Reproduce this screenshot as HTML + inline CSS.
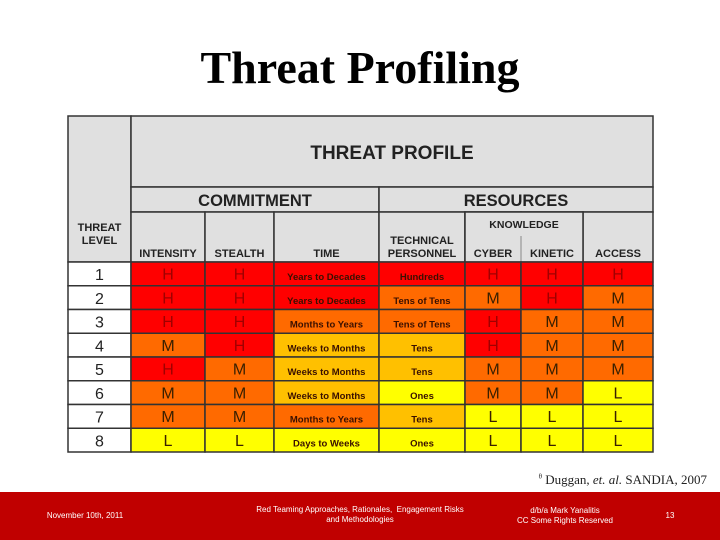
<!DOCTYPE html>
<html><head><meta charset="utf-8">
<style>
html,body{margin:0;padding:0;background:#fff;}
body{width:720px;height:540px;position:relative;overflow:hidden;font-family:"Liberation Sans",sans-serif;}
#title{position:absolute;left:0;width:720px;top:41px;text-align:center;font-family:"Liberation Serif",serif;font-weight:bold;font-size:46px;color:#000;}
#cite{position:absolute;right:13px;top:472px;font-family:"Liberation Serif",serif;font-size:13px;color:#222;}
#footer{position:absolute;left:0;top:492px;width:720px;height:48px;background:#c00000;color:#fff;font-size:8px;}
#footer div{position:absolute;text-align:center;line-height:10px;}
</style></head><body>
<div id="title">Threat Profiling</div>
<svg id="tbl" width="720" height="540" style="position:absolute;left:0;top:0"></svg>
<div id="cite"><sup style="font-size:7px">θ</sup> Duggan, <i>et. al.</i> SANDIA, 2007</div>
<div id="footer">
<div style="left:30px;width:110px;top:19px">November 10th, 2011</div>
<div style="left:240px;width:240px;top:13px">Red Teaming Approaches, Rationales,&nbsp; Engagement Risks<br>and Methodologies</div>
<div style="left:500px;width:130px;top:14px">d/b/a Mark Yanalitis<br>CC Some Rights Reserved</div>
<div style="left:660px;width:20px;top:19px">13</div>
</div>
<script>
const levels=["1","2","3","4","5","6","7","8"];
const intensity=["H","H","H","M","H","M","M","L"];
const stealth=["H","H","H","H","M","M","M","L"];
const time=["Years to Decades","Years to Decades","Months to Years","Weeks to Months","Weeks to Months","Weeks to Months","Months to Years","Days to Weeks"];
const personnel=["Hundreds","Tens of Tens","Tens of Tens","Tens","Tens","Ones","Tens","Ones"];
const cyber=["H","M","H","H","M","M","L","L"];
const kinetic=["H","H","M","M","M","M","L","L"];
const access=["H","M","M","M","M","L","L","L"];
const ratingColor={"H":"#ff0000","M":"#ff6a00","L":"#ffff00"};
const timeColor={"Years to Decades":"#ff0000","Months to Years":"#ff6a00","Weeks to Months":"#ffc000","Days to Weeks":"#ffff00"};
const persColor={"Hundreds":"#ff0000","Tens of Tens":"#ff6a00","Tens":"#ffc000","Ones":"#ffff00"};
const cols=[68,131,205,274,379,465,521,583,653];
const rowTop=262,rowH=23.75;
const svg=document.getElementById('tbl');
const NS="http://www.w3.org/2000/svg";
function rect(x,y,w,h,fill,name){const r=document.createElementNS(NS,'rect');r.setAttribute('x',x);r.setAttribute('y',y);r.setAttribute('width',w);r.setAttribute('height',h);r.setAttribute('fill',fill);r.setAttribute('stroke','#333');r.setAttribute('stroke-width','1.5');


svg.appendChild(r);return r;}
function text(x,y,s,size,color,weight,name){const t=document.createElementNS(NS,'text');t.setAttribute('x',x);t.setAttribute('y',y);t.setAttribute('text-anchor','middle');t.setAttribute('font-size',size);t.setAttribute('fill',color);t.setAttribute('font-weight',weight);t.setAttribute('font-family','Liberation Sans, sans-serif');t.textContent=s;


svg.appendChild(t);return t;}
rect(68,116,63,146,'#e0e0e0','threat-level-header');
text(99.5,231,'THREAT',11,'#222','bold','threat-level-label');
text(99.5,244,'LEVEL',11,'#222','bold','threat-level-label');
rect(131,116,522,71,'#e0e0e0','threat-profile-header');
text(392,159,'THREAT PROFILE',19,'#222','bold','threat-profile-title');
rect(131,187,248,25,'#e0e0e0','commitment-header');
text(255,206,'COMMITMENT',16.5,'#222','bold','commitment-title');
rect(379,187,274,25,'#e0e0e0','resources-header');
text(516,206,'RESOURCES',16.5,'#222','bold','resources-title');
const heads=["INTENSITY","STEALTH","TIME",null,"CYBER","KINETIC","ACCESS"];
for(let i=1;i<8;i++){rect(cols[i],212,cols[i+1]-cols[i],50,'#e0e0e0','column-header');}
rect(465,212,118,50,'#e0e0e0','knowledge-header');
text(524,228,'KNOWLEDGE',10.5,'#222','bold','knowledge-title');
const ln=document.createElementNS(NS,'line');ln.setAttribute('x1',521);ln.setAttribute('x2',521);ln.setAttribute('y1',236);ln.setAttribute('y2',262);ln.setAttribute('stroke','#888');


svg.appendChild(ln);
heads.forEach((h,j)=>{const i=j+1;if(h)text((cols[i]+cols[i+1])/2,257,h,11,'#222','bold','column-title');});
text(422,244,'TECHNICAL',11,'#222','bold','column-title');
text(422,257,'PERSONNEL',11,'#222','bold','column-title');
const series=[intensity,stealth,time,personnel,cyber,kinetic,access];
levels.forEach((lv,r)=>{
 const y=rowTop+r*rowH;
 rect(68,y,63,rowH,'#ffffff','level-cell');
 text(99.5,y+18,lv,16,'#222','normal','level-number');
 series.forEach((s,j)=>{
  const i=j+1,v=s[r];
  let fill=j==2?timeColor[v]:j==3?persColor[v]:ratingColor[v];
  rect(cols[i],y,cols[i+1]-cols[i],rowH,fill,'rating-cell');
  const cx=(cols[i]+cols[i+1])/2;
  if(j==2||j==3){text(cx,y+18,v,9.5,'#3a1000','bold','cell-text');}
  else{text(cx,y+17.5,v,16,v=="H"?'#a00000':'#3a2000','normal','cell-rating');}
 });
});
</script>
</body></html>
